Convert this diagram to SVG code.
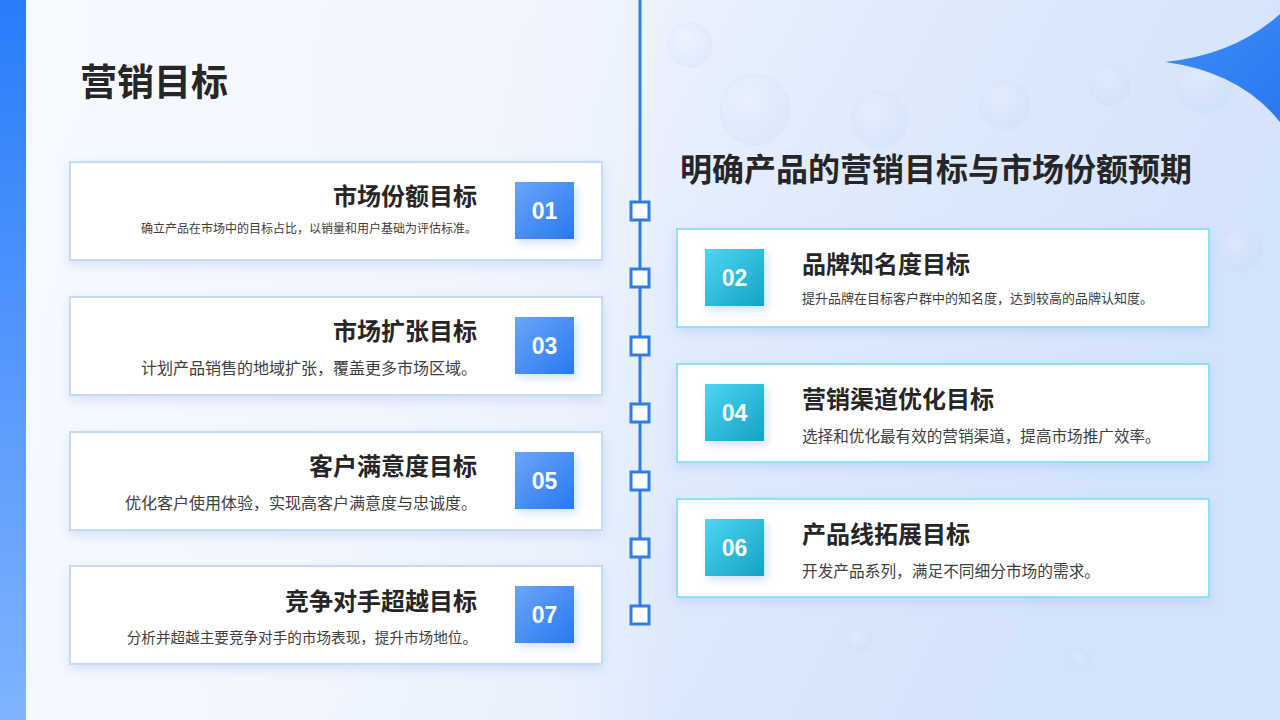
<svg xmlns="http://www.w3.org/2000/svg" width="1280" height="720" viewBox="0 0 1280 720">
<defs>
<linearGradient id="bg" x1="0" y1="0" x2="1" y2="0.3">
<stop offset="0" stop-color="#f6f9ff"/>
<stop offset="0.45" stop-color="#edf3fe"/>
<stop offset="0.65" stop-color="#e0ebfc"/>
<stop offset="1" stop-color="#d3e3fb"/>
</linearGradient>
<linearGradient id="panel" x1="0" y1="0" x2="1" y2="0">
<stop offset="0" stop-color="#f7faff" stop-opacity="0.8"/>
<stop offset="0.85" stop-color="#f2f6fe" stop-opacity="0.5"/>
<stop offset="1" stop-color="#f2f6fe" stop-opacity="0"/>
</linearGradient>
<linearGradient id="bar" x1="0" y1="0" x2="0" y2="1">
<stop offset="0" stop-color="#2a7cfb"/>
<stop offset="1" stop-color="#80b4ff"/>
</linearGradient>
<linearGradient id="blueBox" x1="0" y1="0" x2="1" y2="1">
<stop offset="0" stop-color="#6aa6f6"/>
<stop offset="1" stop-color="#2878f4"/>
</linearGradient>
<linearGradient id="cyanBox" x1="0" y1="0" x2="1" y2="1">
<stop offset="0" stop-color="#4dd6f2"/>
<stop offset="1" stop-color="#14a2c6"/>
</linearGradient>
<linearGradient id="corner" x1="0" y1="0" x2="1" y2="1">
<stop offset="0" stop-color="#3f8cf6"/>
<stop offset="1" stop-color="#2a78f2"/>
</linearGradient>
<filter id="sh" x="-10%" y="-30%" width="120%" height="160%">
<feDropShadow dx="0" dy="4" stdDeviation="6" flood-color="#8fb4ee" flood-opacity="0.35"/>
</filter>
<filter id="bsh" x="-40%" y="-40%" width="180%" height="180%">
<feDropShadow dx="3" dy="4" stdDeviation="4" flood-color="#7aa8ee" flood-opacity="0.35"/>
</filter>
<radialGradient id="drop" cx="0.4" cy="0.35" r="0.6">
<stop offset="0" stop-color="#ffffff" stop-opacity="0.18"/>
<stop offset="1" stop-color="#b9d0f3" stop-opacity="0.15"/>
</radialGradient>
</defs>
<style>
.title{font-family:"Noto Sans CJK SC","Noto Sans",sans-serif;font-weight:700;fill:#262626}
.ctitle{font-family:"Noto Sans CJK SC","Noto Sans",sans-serif;font-weight:700;font-size:24px;fill:#262626}
.desc{font-family:"Noto Sans CJK SC","Noto Sans",sans-serif;fill:#404040}
.num{font-family:"Liberation Sans",Arial,sans-serif;font-weight:700;font-size:23px;fill:#ffffff}
.cardL{fill:#ffffff;stroke:#c4dbf8;stroke-width:2}
.cardR{fill:#ffffff;stroke:#8ee0f2;stroke-width:2}
.sq{fill:#ffffff;stroke:#2f7ce9;stroke-width:3}
</style>

<rect x="0" y="0" width="1280" height="720" fill="url(#bg)"/>
<g id="drops" fill="url(#drop)" stroke="#c9dbf5" stroke-opacity="0.3">
<circle cx="690" cy="45" r="22"/>
<circle cx="755" cy="110" r="35"/>
<circle cx="880" cy="120" r="28"/>
<circle cx="1005" cy="105" r="25"/>
<circle cx="1110" cy="85" r="20"/>
<circle cx="1205" cy="85" r="28"/>
<circle cx="1240" cy="250" r="22"/>
<circle cx="860" cy="640" r="12"/>
<circle cx="1080" cy="660" r="10"/>
</g>
<rect x="26" y="0" width="640" height="720" fill="url(#panel)"/>
<rect x="0" y="0" width="26" height="720" fill="url(#bar)"/>
<path d="M1165,62 Q1235,55 1280,14 L1280,122 Q1240,72 1165,62 Z" fill="url(#corner)"/>

<text class="title" x="80" y="96" font-size="37">营销目标</text>
<text class="title" x="680" y="181" font-size="32">明确产品的营销目标与市场份额预期</text>

<g id="connectors">
<line x1="640" y1="0" x2="640" y2="612" stroke="#2f7ce9" stroke-width="3"/>
<rect class="sq" x="631" y="202" width="18" height="18"/>
<rect class="sq" x="631" y="269" width="18" height="18"/>
<rect class="sq" x="631" y="337" width="18" height="18"/>
<rect class="sq" x="631" y="404" width="18" height="18"/>
<rect class="sq" x="631" y="472" width="18" height="18"/>
<rect class="sq" x="631" y="539" width="18" height="18"/>
<rect class="sq" x="631" y="606" width="18" height="18"/>
</g>

<g id="node01">
<rect class="cardL" x="70" y="162" width="532" height="98" filter="url(#sh)"/>
<text class="ctitle" x="477" y="205" text-anchor="end">市场份额目标</text>
<text class="desc" x="477" y="233" font-size="12" text-anchor="end">确立产品在市场中的目标占比，以销量和用户基础为评估标准。</text>
<rect x="515" y="182" width="59" height="57" fill="url(#blueBox)" filter="url(#bsh)"/>
<text class="num" x="544.5" y="219" text-anchor="middle">01</text>
</g>

<g id="node03">
<rect class="cardL" x="70" y="297" width="532" height="98" filter="url(#sh)"/>
<text class="ctitle" x="477" y="340" text-anchor="end">市场扩张目标</text>
<text class="desc" x="477" y="374" font-size="16" text-anchor="end">计划产品销售的地域扩张，覆盖更多市场区域。</text>
<rect x="515" y="317" width="59" height="57" fill="url(#blueBox)" filter="url(#bsh)"/>
<text class="num" x="544.5" y="354" text-anchor="middle">03</text>
</g>

<g id="node05">
<rect class="cardL" x="70" y="432" width="532" height="98" filter="url(#sh)"/>
<text class="ctitle" x="477" y="475" text-anchor="end">客户满意度目标</text>
<text class="desc" x="477" y="509" font-size="16" text-anchor="end">优化客户使用体验，实现高客户满意度与忠诚度。</text>
<rect x="515" y="452" width="59" height="57" fill="url(#blueBox)" filter="url(#bsh)"/>
<text class="num" x="544.5" y="489" text-anchor="middle">05</text>
</g>

<g id="node07">
<rect class="cardL" x="70" y="566" width="532" height="98" filter="url(#sh)"/>
<text class="ctitle" x="477" y="610" text-anchor="end">竞争对手超越目标</text>
<text class="desc" x="477" y="643" font-size="14.6" text-anchor="end">分析并超越主要竞争对手的市场表现，提升市场地位。</text>
<rect x="515" y="586" width="59" height="57" fill="url(#blueBox)" filter="url(#bsh)"/>
<text class="num" x="544.5" y="623" text-anchor="middle">07</text>
</g>

<g id="node02">
<rect class="cardR" x="677" y="229" width="532" height="98" filter="url(#sh)"/>
<rect x="705" y="249" width="59" height="57" fill="url(#cyanBox)" filter="url(#bsh)"/>
<text class="num" x="734.5" y="286" text-anchor="middle">02</text>
<text class="ctitle" x="802" y="273">品牌知名度目标</text>
<text class="desc" x="802" y="303" font-size="13">提升品牌在目标客户群中的知名度，达到较高的品牌认知度。</text>
</g>

<g id="node04">
<rect class="cardR" x="677" y="364" width="532" height="98" filter="url(#sh)"/>
<rect x="705" y="384" width="59" height="57" fill="url(#cyanBox)" filter="url(#bsh)"/>
<text class="num" x="734.5" y="421" text-anchor="middle">04</text>
<text class="ctitle" x="802" y="408">营销渠道优化目标</text>
<text class="desc" x="802" y="442" font-size="15.6">选择和优化最有效的营销渠道，提高市场推广效率。</text>
</g>

<g id="node06">
<rect class="cardR" x="677" y="499" width="532" height="98" filter="url(#sh)"/>
<rect x="705" y="519" width="59" height="57" fill="url(#cyanBox)" filter="url(#bsh)"/>
<text class="num" x="734.5" y="556" text-anchor="middle">06</text>
<text class="ctitle" x="802" y="543">产品线拓展目标</text>
<text class="desc" x="802" y="577" font-size="15.7">开发产品系列，满足不同细分市场的需求。</text>
</g>
</svg>
